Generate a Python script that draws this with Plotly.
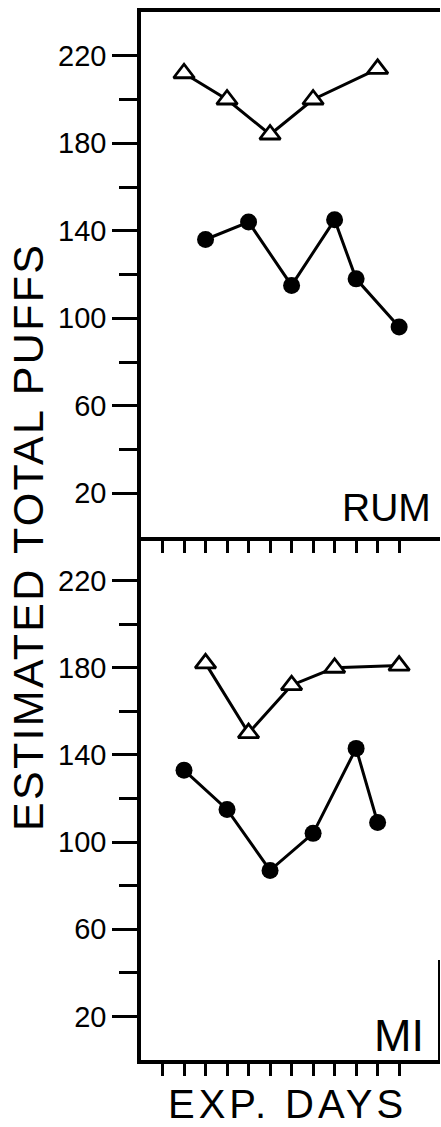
import plotly.graph_objects as go
from plotly.subplots import make_subplots

# ---- data ----
rum_tri_days = [2, 4, 6, 8, 11]
rum_tri_vals = [212, 200, 184, 200, 214]
rum_dot_days = [3, 5, 7, 9, 10, 12]
rum_dot_vals = [136, 144, 115, 145, 118, 96]

mi_tri_days = [3, 5, 7, 9, 12]
mi_tri_vals = [182, 150, 172, 180, 181]
mi_dot_days = [2, 4, 6, 8, 10, 11]
mi_dot_vals = [133, 115, 87, 104, 143, 109]

y_major = [20, 60, 100, 140, 180, 220]
y_minor = [40, 80, 120, 160, 200]
x_ticks = list(range(1, 13))

W, H = 441, 1127
L, R, T, B = 141, 1, 12, 67
pw, ph = W - L - R, H - T - B

fig = make_subplots(rows=2, cols=1, shared_xaxes=False, vertical_spacing=0)

tri_style = dict(mode="lines+markers",
                 line=dict(color="black", width=3),
                 marker=dict(symbol="triangle-up", size=18, color="white",
                             line=dict(color="black", width=2.8)))
dot_style = dict(mode="lines+markers",
                 line=dict(color="black", width=3),
                 marker=dict(symbol="circle", size=17, color="black"))

fig.add_trace(go.Scatter(x=rum_dot_days, y=rum_dot_vals, **dot_style), row=1, col=1)
fig.add_trace(go.Scatter(x=rum_tri_days, y=rum_tri_vals, **tri_style), row=1, col=1)
fig.add_trace(go.Scatter(x=mi_dot_days, y=mi_dot_vals, **dot_style), row=2, col=1)
fig.add_trace(go.Scatter(x=mi_tri_days, y=mi_tri_vals, **tri_style), row=2, col=1)

split = (H - B - 537) / ph
tickfont = dict(family="Liberation Sans, Arial, Helvetica", size=29, color="black")

for ax in ["yaxis", "yaxis2"]:
    fig.layout[ax].update(
        range=[0, 240], tickvals=y_major, ticktext=[str(v) for v in y_major],
        ticks="outside", ticklen=25, tickwidth=2.8, tickcolor="black",
        showline=True, linewidth=3.5, linecolor="black",
        showgrid=False, zeroline=False, tickfont=tickfont,
        ticklabelstandoff=0,
        minor=dict(tickvals=y_minor, ticks="outside", ticklen=18,
                   tickwidth=2.8, tickcolor="black", showgrid=False))

fig.layout.yaxis.domain = [split, 1]
fig.layout.yaxis2.domain = [0, split]

for ax in ["xaxis", "xaxis2"]:
    fig.layout[ax].update(
        range=[0, 13.9], tickvals=x_ticks, showticklabels=False,
        ticks="outside", ticklen=12, tickwidth=2.5, tickcolor="black",
        showline=True, linewidth=3.5, linecolor="black",
        showgrid=False, zeroline=False)
fig.layout.xaxis.mirror = True

big = "Liberation Sans, Arial, Helvetica"
fig.add_annotation(text="RUM", xref="x domain", yref="y domain",
                   x=(430 - L) / pw, y=0.0, xanchor="right", yanchor="bottom",
                   xshift=3, yshift=6, showarrow=False,
                   font=dict(family=big, size=39, color="black"))
fig.add_annotation(text="MI", xref="x2 domain", yref="y2 domain",
                   x=(424 - L) / pw, y=0.0, xanchor="right", yanchor="bottom",
                   xshift=2, yshift=-3, showarrow=False,
                   font=dict(family=big, size=45, color="black"))
fig.add_annotation(text='<span style="letter-spacing:2.3px">ESTIMATED TOTAL PUFFS</span>',
                   xref="paper", yref="paper",
                   x=(28 - L) / pw, y=split, xanchor="center", yanchor="middle",
                   textangle=-90, showarrow=False,
                   font=dict(family=big, size=43, color="black"))
fig.add_annotation(text='<span style="letter-spacing:4px">EXP. DAYS</span>',
                   xref="paper", yref="paper",
                   x=(287.5 - L) / pw, y=(H - B - 1104) / ph,
                   xanchor="center", yanchor="middle", showarrow=False,
                   font=dict(family=big, size=40, color="black"))

# short right frame edge visible at the bottom of the MI panel
fig.add_shape(type="line", xref="x2 domain", yref="y2 domain",
              x0=(439 - L) / pw, x1=(439 - L) / pw,
              y0=0, y1=(1060 - 960) / (1060 - 537),
              line=dict(color="black", width=2))

fig.update_layout(width=W, height=H, margin=dict(l=L, r=R, t=T, b=B),
                  plot_bgcolor="white", paper_bgcolor="white",
                  showlegend=False)

fig.write_html("out.html", config={"displayModeBar": False},
               post_script="document.body.style.margin='0';document.body.style.padding='0';")
